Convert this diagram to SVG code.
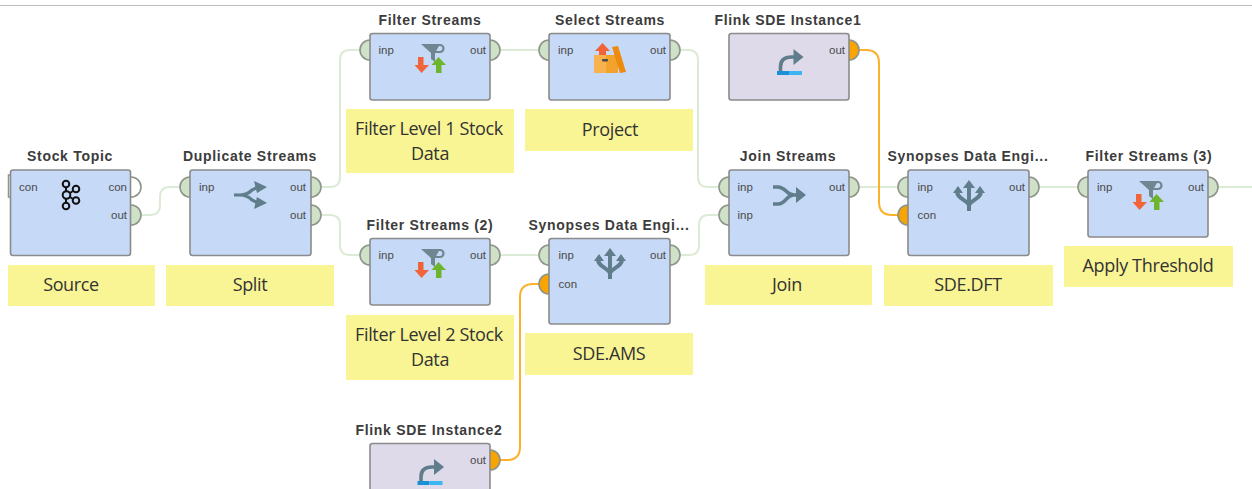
<svg xmlns="http://www.w3.org/2000/svg" width="1252" height="489" viewBox="0 0 1252 489">
<style>
.box{fill:#c6d9f6;stroke:#8b8b8b;stroke-width:1.6}
.boxp{fill:#dfdaea;stroke:#8b8b8b;stroke-width:1.6}
.t{font:bold 14px "Liberation Sans",Arial,sans-serif;letter-spacing:.7px;fill:#3c3c3c;text-anchor:middle}
.p{font:11.500px "Liberation Sans",Arial,sans-serif;fill:#4a4a4a}
.pe{text-anchor:end}
.n{font:18px "Open Sans",sans-serif;letter-spacing:-.35px;fill:#333;text-anchor:middle}
.note{fill:#f9f595}
.port{fill:#cfe2c8;stroke:#8d958a;stroke-width:1.6}
.porto{fill:#f9a400;stroke:#8d958a;stroke-width:1.6}
.portw{fill:#fff;stroke:#8d958a;stroke-width:1.6}
.c{fill:none;stroke:#dcebd6;stroke-width:2}
.co{fill:none;stroke:#fbb12c;stroke-width:2}
.ig{fill:none;stroke:#5f7d8a;stroke-width:4}
</style>
<defs>
<g id="filterIcon">
<path d="M-9 -21H10L5 -12V-3L1 -6V-12Z" fill="#6f8791"/>
<path d="M5 -20H10A3.500 3.500 0 0 1 10 -13H4" fill="none" stroke="#6f8791" stroke-width="2.200"/>
<path d="M-12 -8H-6.500V0H-1L-8.500 8L-15.500 0H-12Z" fill="#f1643a"/>
<path d="M6 8H11.500V0H16L8.500 -8L1.500 0H6Z" fill="#6cb52d"/>
</g>
<g id="sdeIcon">
<path d="M0 15V-10M0 9C-3 3 -12 3 -12 -5M0 9C3 3 12 3 12 -5" class="ig"/>
<path d="M-6 -8L0 -16L6 -8ZM-16 -3L-11 -10L-6 -3ZM6 -3L11 -10L16 -3Z" fill="#5f7d8a"/>
</g>
<g id="flinkIcon">
<path d="M-9 0V-4Q-9 -14 2 -14H6" fill="none" stroke="#5f7d8a" stroke-width="3.600"/>
<path d="M4 -22L14 -14L4 -6Z" fill="#5f7d8a"/>
<rect x="-12.500" y="0" width="12" height="4" fill="#1b8fd6"/>
<rect x="-0.500" y="0" width="13" height="4" fill="#3cb6f0"/>
</g>
</defs>

<rect x="0" y="5" width="1252" height="1" fill="#bdbdbd"/>

<g id="connectors">
<path class="c" d="M141 215H150Q160 215 160 205V197Q160 187 170 187H181"/>
<path class="c" d="M320 187H330Q340 187 340 177V60Q340 50 350 50H361"/>
<path class="c" d="M320 215H330Q340 215 340 225V245Q340 255 350 255H361"/>
<path class="c" d="M499 50H540"/>
<path class="c" d="M499 255H540"/>
<path class="c" d="M679 50H688Q698 50 698 60V177Q698 187 708 187H720"/>
<path class="c" d="M679 255H689Q699 255 699 245V225Q699 215 709 215H720"/>
<path class="c" d="M858 187H899"/>
<path class="c" d="M1038 187H1079"/>
<path class="c" d="M1217 187H1252"/>
<path class="co" d="M858 50H866Q879 50 879 63V202Q879 215 892 215H899"/>
<path class="co" d="M499 460H507Q520 460 520 447V297Q520 284 533 284H540"/>
</g>

<g id="stock-topic">
<text class="t" x="70" y="161">Stock Topic</text>
<path d="M11 175H8.500V197H11" fill="none" stroke="#8d958a" stroke-width="1.500"/>
<circle class="portw" cx="131" cy="187" r="10"/><circle class="port" cx="131" cy="215" r="10"/>
<rect class="box" x="10.500" y="170" width="120" height="85.500" rx="2.500"/>
<text class="p" x="19" y="191">con</text><text class="p pe" x="127" y="191">con</text><text class="p pe" x="127" y="219">out</text>
<g fill="none" stroke="#111" stroke-width="2"><circle cx="66" cy="184" r="3.300"/><circle cx="66.500" cy="195" r="3.800"/><circle cx="66" cy="206" r="3.300"/><circle cx="76" cy="189" r="3.300"/><circle cx="76" cy="200.500" r="3.300"/><path d="M66 187V191M66 199V203M70 193L73 191M70 197L73 199"/></g>
</g>
<g id="source-note"><rect class="note" x="8" y="265" width="147" height="41"/><text class="n" x="71" y="291">Source</text></g>

<g id="duplicate-streams">
<text class="t" x="250" y="161">Duplicate Streams</text>
<circle class="port" cx="190" cy="187" r="10"/><circle class="port" cx="311" cy="187" r="10"/><circle class="port" cx="311" cy="215" r="10"/>
<rect class="box" x="190" y="170" width="121" height="85.500" rx="2.500"/>
<text class="p" x="199" y="191">inp</text><text class="p pe" x="306" y="191">out</text><text class="p pe" x="306" y="219">out</text>
<path d="M234 195H240Q247 195 252 190L258 187M240 195Q247 195 252 200L258 203" fill="none" stroke="#5f7d8a" stroke-width="3.200"/>
<path d="M254 181L267 187L257 193ZM254 209L267 203L257 197Z" fill="#5f7d8a"/>
</g>
<g id="split-note"><rect class="note" x="166" y="265" width="168" height="41"/><text class="n" x="250" y="291">Split</text></g>

<g id="filter-streams">
<text class="t" x="430" y="25">Filter Streams</text>
<circle class="port" cx="370" cy="50" r="10"/><circle class="port" cx="490" cy="50" r="10"/>
<rect class="box" x="370" y="33.500" width="120" height="66.500" rx="2.500"/>
<text class="p" x="378.500" y="54">inp</text><text class="p pe" x="486" y="54">out</text>
<use href="#filterIcon" x="430" y="65"/>
</g>
<g id="filter-1-note"><rect class="note" x="346" y="109" width="168" height="64"/><text class="n" x="429" y="135">Filter Level 1 Stock</text><text class="n" x="430" y="160">Data</text></g>

<g id="select-streams">
<text class="t" x="610" y="25">Select Streams</text>
<circle class="port" cx="549" cy="50" r="10"/><circle class="port" cx="670" cy="50" r="10"/>
<rect class="box" x="549" y="33.500" width="121" height="66.500" rx="2.500"/>
<text class="p" x="558" y="54">inp</text><text class="p pe" x="666" y="54">out</text>
<path d="M594 55H606V73H594Z" fill="#f7b24d"/><path d="M606 55H618V73H606Z" fill="#f2a32e"/>
<path d="M612 47L618 46L626 72L620 73Z" fill="#ee8a0c"/>
<path d="M599 55V51H595L602.500 43L610 51H606V55Z" fill="#f1643a"/>
<rect x="602" y="59" width="6" height="2.500" rx="1" fill="#4a4a4a"/>
</g>
<g id="project-note"><rect class="note" x="525" y="109" width="168" height="42"/><text class="n" x="610" y="136">Project</text></g>

<g id="flink-1">
<text class="t" x="788" y="25">Flink SDE Instance1</text>
<circle class="porto" cx="849" cy="50" r="10"/>
<rect class="boxp" x="729" y="33.500" width="120" height="66.500" rx="2.500"/>
<text class="p pe" x="845" y="54">out</text>
<use href="#flinkIcon" x="789.500" y="71"/>
</g>

<g id="join-streams">
<text class="t" x="788" y="161">Join Streams</text>
<circle class="port" cx="729" cy="187" r="10"/><circle class="port" cx="729" cy="215" r="10"/><circle class="port" cx="849" cy="187" r="10"/>
<rect class="box" x="729" y="170" width="120" height="85.500" rx="2.500"/>
<text class="p" x="737.500" y="191">inp</text><text class="p" x="737.500" y="219">inp</text><text class="p pe" x="845" y="191">out</text>
<path d="M773 187H778C786 187 786 195 794 195H798M773 204H778C786 204 786 195 794 195" fill="none" stroke="#5f7d8a" stroke-width="3.400"/>
<path d="M796 187L806 195L796 203Z" fill="#5f7d8a"/>
</g>
<g id="join-note"><rect class="note" x="705" y="265" width="167" height="40"/><text class="n" x="787" y="291">Join</text></g>

<g id="sde-dft">
<text class="t" x="968" y="161">Synopses Data Engi...</text>
<circle class="port" cx="908" cy="187" r="10"/><circle class="porto" cx="908" cy="215" r="10"/><circle class="port" cx="1029" cy="187" r="10"/>
<rect class="box" x="908" y="170" width="121" height="85.500" rx="2.500"/>
<text class="p" x="917.500" y="191">inp</text><text class="p" x="917.500" y="219">con</text><text class="p pe" x="1025" y="191">out</text>
<use href="#sdeIcon" x="969" y="196"/>
</g>
<g id="dft-note"><rect class="note" x="884" y="265" width="169" height="41"/><text class="n" x="968" y="291">SDE.DFT</text></g>

<g id="filter-streams-3">
<text class="t" x="1149" y="161">Filter Streams (3)</text>
<circle class="port" cx="1088" cy="187" r="10"/><circle class="port" cx="1208" cy="187" r="10"/>
<rect class="box" x="1088" y="170" width="120" height="67" rx="2.500"/>
<text class="p" x="1097" y="191">inp</text><text class="p pe" x="1204" y="191">out</text>
<use href="#filterIcon" x="1148" y="202"/>
</g>
<g id="threshold-note"><rect class="note" x="1064" y="246" width="169" height="41"/><text class="n" x="1148" y="272">Apply Threshold</text></g>

<g id="filter-streams-2">
<text class="t" x="430" y="230">Filter Streams (2)</text>
<circle class="port" cx="370" cy="255" r="10"/><circle class="port" cx="490" cy="255" r="10"/>
<rect class="box" x="370" y="238.500" width="120" height="66.500" rx="2.500"/>
<text class="p" x="378.500" y="259">inp</text><text class="p pe" x="486" y="259">out</text>
<use href="#filterIcon" x="430" y="270"/>
</g>
<g id="filter-2-note"><rect class="note" x="346" y="315" width="168" height="65"/><text class="n" x="429" y="341">Filter Level 2 Stock</text><text class="n" x="430" y="366">Data</text></g>

<g id="sde-ams">
<text class="t" x="609" y="230">Synopses Data Engi...</text>
<circle class="port" cx="549" cy="255" r="10"/><circle class="porto" cx="549" cy="284" r="10"/><circle class="port" cx="670" cy="255" r="10"/>
<rect class="box" x="549" y="238.500" width="121" height="85.500" rx="2.500"/>
<text class="p" x="558.500" y="259">inp</text><text class="p" x="558.500" y="288">con</text><text class="p pe" x="666" y="259">out</text>
<use href="#sdeIcon" x="610" y="264"/>
</g>
<g id="ams-note"><rect class="note" x="525" y="333" width="168" height="42"/><text class="n" x="609" y="360">SDE.AMS</text></g>

<g id="flink-2">
<text class="t" x="429" y="435">Flink SDE Instance2</text>
<circle class="porto" cx="490" cy="460" r="10"/>
<rect class="boxp" x="370" y="443.500" width="120" height="66.500" rx="2.500"/>
<text class="p pe" x="486" y="464">out</text>
<use href="#flinkIcon" x="430" y="481"/>
</g>
</svg>
